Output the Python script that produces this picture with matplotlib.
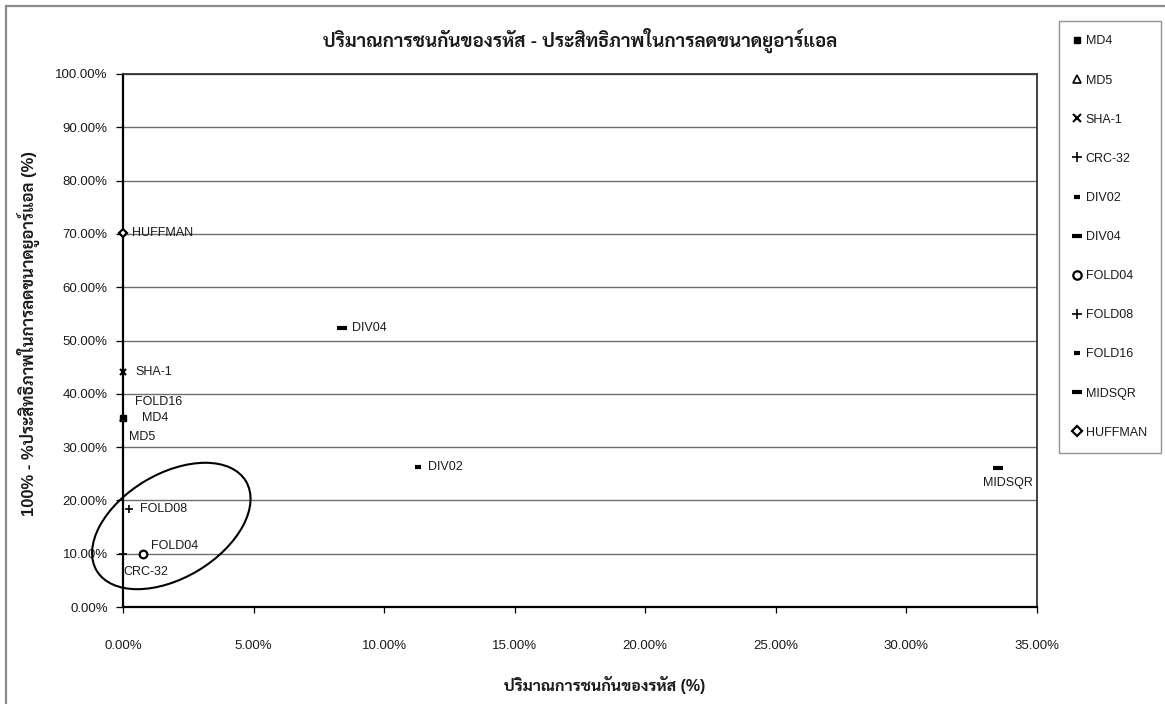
import matplotlib
matplotlib.use("Agg")
import matplotlib.pyplot as plt
from matplotlib import font_manager
from matplotlib.ft2font import FT2Font
from matplotlib.patches import Ellipse, Rectangle
from matplotlib.ticker import MultipleLocator, StrMethodFormatter
from matplotlib.transforms import ScaledTranslation

# hash functions: collision rate (%) vs. 100% - URL size reduction efficiency (%)
names = ["MD4", "MD5", "SHA-1", "CRC-32", "DIV02", "DIV04",
         "FOLD04", "FOLD08", "FOLD16", "MIDSQR", "HUFFMAN"]
collision = [0.0, 0.0, 0.0, 0.0, 11.3, 8.4, 0.78, 0.24, 0.05, 33.5, 0.0]
reduction = [35.4, 35.4, 44.1, 9.9, 26.3, 52.4, 9.9, 18.3, 35.5, 26.1, 70.2]

title = "ปริมาณการชนกันของรหัส - ประสิทธิภาพในการลดขนาดยูอาร์แอล"
xlabel = "ปริมาณการชนกันของรหัส (%)"
ylabel = "100% - %ประสิทธิภาพในการลดขนาดยูอาร์แอล (%)"


def thai_font():
    # prefer a looped Thai face that also ships a bold weight
    fonts = font_manager.fontManager.ttflist
    bold = {f.name for f in fonts if isinstance(f.weight, int) and f.weight >= 700}
    for name in ["Sarabun", "Noto Sans Thai Looped", "Niramit", "K2D", "Noto Sans Thai"]:
        if name in bold:
            return name
    for f in fonts:
        try:
            if f.name in bold and 0x0E1B in FT2Font(f.fname).get_charmap():
                return f.name
        except Exception:
            pass
    return "DejaVu Sans"


FAMILY = ["Liberation Sans", thai_font(), "DejaVu Sans"]
plt.rcParams["font.family"] = FAMILY
TXT = "#1a1a1a"

# marker style per series: (marker, size, edge width, filled)
styles = {
    "MD4": ("s", 4.5, 1.0, True),
    "MD5": ("^", 5, 1.2, False),
    "SHA-1": ("x", 5, 1.5, False),
    "CRC-32": ("+", 6, 1.2, False),
    "DIV02": ("_", 4, 3.0, False),
    "DIV04": ("_", 6.5, 3.0, False),
    "FOLD04": ("o", 5.5, 1.6, False),
    "FOLD08": ("+", 6, 1.2, False),
    "FOLD16": ("_", 4, 3.0, False),
    "MIDSQR": ("_", 6.5, 3.0, False),
    "HUFFMAN": ("D", 4.5, 1.6, False),
}

# label offsets in pixels (dx, dy) and horizontal alignment
label_pos = {
    "MD4": (19, 0, "left"),
    "MD5": (6, -19, "left"),
    "SHA-1": (12, 0, "left"),
    "CRC-32": (0, -18, "left"),
    "DIV02": (10, 0, "left"),
    "DIV04": (10, 0, "left"),
    "FOLD04": (8, 8, "left"),
    "FOLD08": (11, 0, "left"),
    "FOLD16": (11, 16, "left"),
    "MIDSQR": (10, -15, "center"),
    "HUFFMAN": (9, 0, "left"),
}

fig = plt.figure(figsize=(11.65, 7.04), dpi=100)
ax = fig.add_axes([123 / 1165, 1 - 607 / 704, 914 / 1165, 533 / 704])

# outer chart frame
fig.patches.append(Rectangle((6 / 1165, -0.1), 1.2, 1.1 - 6 / 704, transform=fig.transFigure,
                             fill=False, edgecolor="#8a8a8a", linewidth=1.6))

for name, x, y in zip(names, collision, reduction):
    m, ms, mew, filled = styles[name]
    ax.plot(x, y, linestyle="none", marker=m, markersize=ms, markeredgewidth=mew,
            markeredgecolor="black", markerfacecolor="black" if filled else "white",
            label=name, zorder=4, clip_on=False)
    dx, dy, ha = label_pos[name]
    ax.annotate(name, (x, y), xytext=(dx, dy), textcoords="offset pixels",
                ha=ha, va="center", fontsize=9, color=TXT, zorder=5)

ax.set_xlim(0, 35)
ax.set_ylim(0, 100)
ax.xaxis.set_major_locator(MultipleLocator(5))
ax.yaxis.set_major_locator(MultipleLocator(10))
ax.xaxis.set_major_formatter(StrMethodFormatter("{x:.2f}%"))
ax.yaxis.set_major_formatter(StrMethodFormatter("{x:.2f}%"))
ax.tick_params(axis="x", direction="out", length=4, width=0.9, pad=20, labelsize=9.5, labelcolor=TXT)
ax.tick_params(axis="y", direction="out", length=5, width=0.9, pad=6, labelsize=9.5, labelcolor=TXT)
ax.grid(axis="y", color="#6e6e6e", linewidth=1.0)
ax.set_axisbelow(True)
for side in ["left", "bottom"]:
    ax.spines[side].set_linewidth(1.6)
for side in ["top", "right"]:
    ax.spines[side].set_linewidth(1.3)
    ax.spines[side].set_color("#333333")

# ellipse drawn around the low-collision, low-reduction group
group = Ellipse((0, 0), 1.74, 1.04, angle=31, fill=False, edgecolor="black", linewidth=1.5,
                transform=fig.dpi_scale_trans + ScaledTranslation(1.85, 15.2, ax.transData),
                clip_on=False, zorder=3)
ax.add_patch(group)

fig.text(580 / 1165, 1 - 40 / 704, title, ha="center", va="center",
         fontsize=13.5, fontweight="bold", color=TXT)
fig.text(605 / 1165, 1 - 685 / 704, xlabel, ha="center", va="center",
         fontsize=11.5, fontweight="bold", color=TXT)
fig.text(28 / 1165, 1 - 333 / 704, ylabel, ha="center", va="center", rotation=90,
         fontsize=12, fontweight="bold", color=TXT)

leg = fig.legend(loc="upper left", bbox_to_anchor=(1059 / 1165, 1 - 21 / 704), borderaxespad=0,
                 fontsize=9, frameon=True, fancybox=False, edgecolor="#777777",
                 borderpad=1.15, handlelength=0.6, handletextpad=0.4, labelspacing=2.17,
                 markerscale=1.1)
leg.get_frame().set_linewidth(1.0)
for t in leg.get_texts():
    t.set_color(TXT)

fig.savefig("out.png", dpi=100)
